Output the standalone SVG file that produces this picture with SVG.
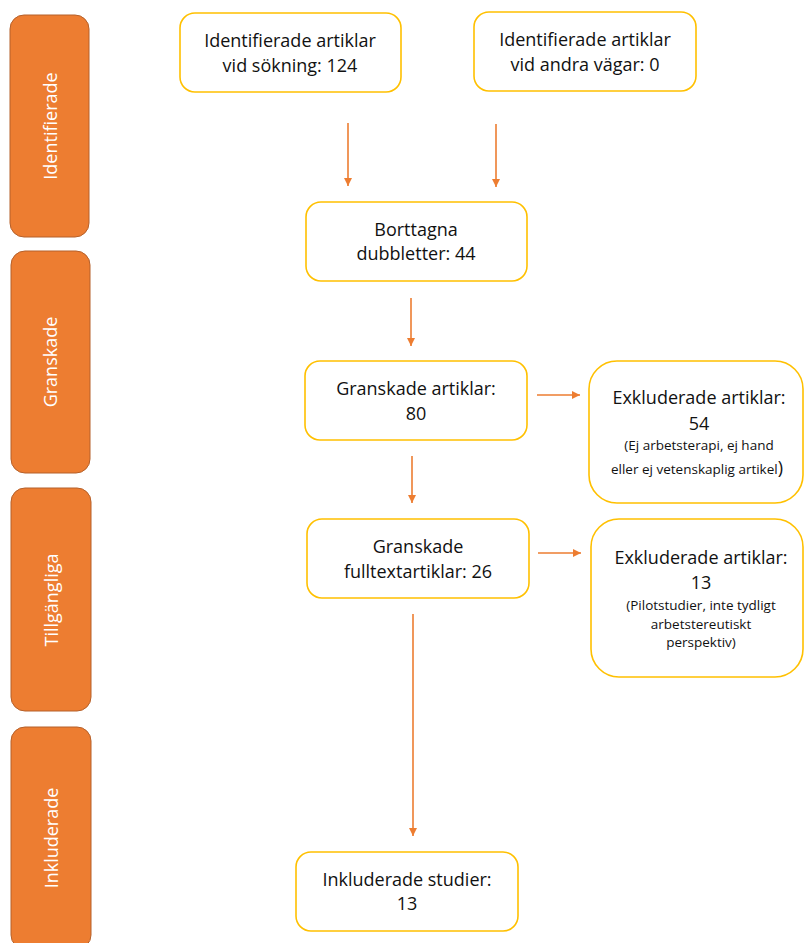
<svg xmlns="http://www.w3.org/2000/svg" width="804" height="943" viewBox="0 0 804 943">
<defs>
<style>
text{font-variant-ligatures:none;font-family:"Open Sans","Noto Sans",sans-serif}
.bar{fill:#ED7D31;stroke:#B5602A;stroke-width:1}
.box{fill:#FFFFFF;stroke:#FFC000;stroke-width:1.6}
.lbl{font-size:18px;fill:#FFFFFF;text-anchor:middle}
.t{font-size:18px;fill:#111111;text-anchor:middle}
.s{font-size:13.5px;fill:#111111;text-anchor:middle}
.c{stroke:#ED7D31;stroke-width:1.6;fill:none;marker-end:url(#ah)}
</style>
<marker id="ah" viewBox="0 0 10 10" refX="10" refY="5" markerWidth="8" markerHeight="9" markerUnits="userSpaceOnUse" orient="auto"><path d="M0,0 L10,5 L0,10 z" fill="#ED7D31"/></marker>
</defs>
<rect width="804" height="943" fill="#FFFFFF"/>
<g id="phase-identifierade"><rect class="bar" x="10" y="15" width="79" height="222" rx="14"/><text class="lbl" transform="translate(57,126) rotate(-90)">Identifierade</text></g>
<g id="phase-granskade"><rect class="bar" x="11" y="251" width="79" height="222" rx="14"/><text class="lbl" transform="translate(57,362) rotate(-90)">Granskade</text></g>
<g id="phase-tillgangliga"><rect class="bar" x="11" y="488" width="80" height="223" rx="14"/><text class="lbl" transform="translate(58,600) rotate(-90)">Tillgängliga</text></g>
<g id="phase-inkluderade"><rect class="bar" x="11" y="727" width="80" height="222" rx="14"/><text class="lbl" transform="translate(58,838) rotate(-90)">Inkluderade</text></g>
<g id="connectors">
<line class="c" x1="348" y1="123" x2="348" y2="186"/>
<line class="c" x1="496" y1="124" x2="496" y2="187"/>
<line class="c" x1="411" y1="298" x2="411" y2="346"/>
<line class="c" x1="537" y1="395" x2="580" y2="395"/>
<line class="c" x1="412" y1="456" x2="412" y2="503"/>
<line class="c" x1="538" y1="553" x2="581" y2="553"/>
<line class="c" x1="413" y1="614" x2="413" y2="836"/>
</g>
<g id="n-sokning"><rect class="box" x="180" y="13" width="221" height="79" rx="15"/><text class="t" x="290" y="47">Identifierade artiklar</text><text class="t" x="290" y="72">vid sökning: 124</text></g>
<g id="n-andra"><rect class="box" x="474" y="12" width="222" height="79" rx="15"/><text class="t" x="585" y="46">Identifierade artiklar</text><text class="t" x="585" y="71">vid andra vägar: 0</text></g>
<g id="n-dubbletter"><rect class="box" x="306" y="202" width="221" height="79" rx="15"/><text class="t" x="416" y="236">Borttagna</text><text class="t" x="416" y="260">dubbletter: 44</text></g>
<g id="n-granskade"><rect class="box" x="305" y="361" width="222" height="79" rx="15"/><text class="t" x="416" y="395">Granskade artiklar:</text><text class="t" x="416" y="420">80</text></g>
<g id="n-exkl1"><rect class="box" x="589" y="361" width="214" height="142" rx="28"/><text class="t" x="699" y="404">Exkluderade artiklar:</text><text class="t" x="699" y="430">54</text><text class="s" x="699" y="450">(Ej arbetsterapi, ej hand</text><text class="s" x="697" y="474">eller ej vetenskaplig artikel<tspan font-size="18px">)</tspan></text></g>
<g id="n-fulltext"><rect class="box" x="307" y="519" width="222" height="79" rx="15"/><text class="t" x="418" y="553">Granskade</text><text class="t" x="418" y="578">fulltextartiklar: 26</text></g>
<g id="n-exkl2"><rect class="box" x="591" y="519" width="212" height="158" rx="28"/><text class="t" x="701" y="564">Exkluderade artiklar:</text><text class="t" x="701" y="589">13</text><text class="s" x="701" y="610">(Pilotstudier, inte tydligt</text><text class="s" x="701" y="629">arbetstereutiskt</text><text class="s" x="701" y="647">perspektiv)</text></g>
<g id="n-inkluderade"><rect class="box" x="296" y="852" width="222" height="79" rx="15"/><text class="t" x="407" y="886">Inkluderade studier:</text><text class="t" x="407" y="910">13</text></g>
</svg>
